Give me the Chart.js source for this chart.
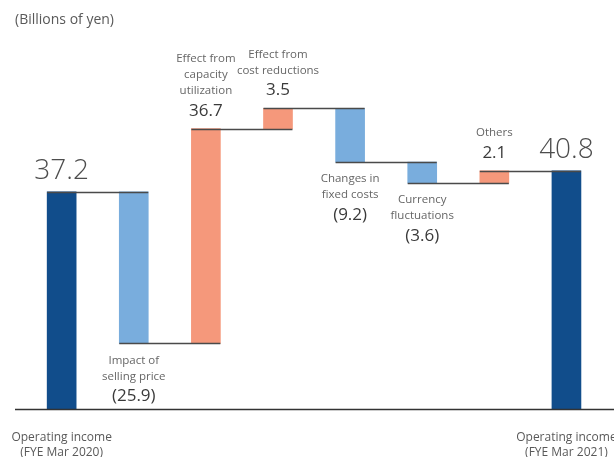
<!DOCTYPE html>
<html>
<head>
<meta charset="utf-8">
<script src="https://cdn.jsdelivr.net/npm/chart.js@4.4.1/dist/chart.umd.min.js"></script>
<style>
  html, body { margin: 0; padding: 0; background: #fff; }
  canvas { display: block; }
</style>
</head>
<body>
<canvas id="chart-1" width="614" height="457"></canvas>
<script>
// data
const categories = [
  "Operating income (FYE Mar 2020)",
  "Impact of selling price",
  "Effect from capacity utilization",
  "Effect from cost reductions",
  "Changes in fixed costs",
  "Currency fluctuations",
  "Others",
  "Operating income (FYE Mar 2021)",
];
const changes = [37.2, -25.9, 36.7, 3.5, -9.2, -3.6, 2.1, 40.8];
const barKinds = ["total", "down", "up", "up", "down", "down", "up", "total"];
const valueTexts = ["37.2", "(25.9)", "36.7", "3.5", "(9.2)", "(3.6)", "2.1", "40.8"];
const nameLines = [
  ["Operating income", "(FYE Mar 2020)"],
  ["Impact of", "selling price"],
  ["Effect from", "capacity", "utilization"],
  ["Effect from", "cost reductions"],
  ["Changes in", "fixed costs"],
  ["Currency", "fluctuations"],
  ["Others"],
  ["Operating income", "(FYE Mar 2021)"],
];
const unitText = "(Billions of yen)";

const colors = {
  total: "#114d8b",
  down: "#79addd",
  up: "#f5987b",
};

// floating ranges
const ranges = [];
let running = 0;
changes.forEach((v, i) => {
  if (barKinds[i] === "total") {
    ranges.push([0, v]);
    running = v;
  } else {
    ranges.push([running, running + v]);
    running = +(running + v).toFixed(1);
  }
});

const font = "'Open Sans', 'Noto Sans', sans-serif";

const waterfallPlugin = {
  id: "waterfall",
  afterDatasetsDraw(chart) {
    const ctx = chart.ctx;
    const y = chart.scales.y;
    const meta = chart.getDatasetMeta(0);
    ctx.save();

    // connectors
    ctx.strokeStyle = "#4a4a4a";
    ctx.lineWidth = 1.3;
    for (let i = 0; i < ranges.length - 1; i++) {
      const a = meta.data[i];
      const b = meta.data[i + 1];
      const py = Math.round(y.getPixelForValue(ranges[i][1])) + 0.5;
      ctx.beginPath();
      ctx.moveTo(a.x - a.width / 2, py);
      ctx.lineTo(b.x + b.width / 2, py);
      ctx.stroke();
    }

    // baseline
    const by = y.getPixelForValue(0);
    ctx.strokeStyle = "#333";
    ctx.lineWidth = 1.5;
    ctx.beginPath();
    ctx.moveTo(15, by);
    ctx.lineTo(chart.width, by);
    ctx.stroke();

    // unit
    ctx.fillStyle = "#595959";
    ctx.font = "14px " + font;
    ctx.textAlign = "left";
    ctx.textBaseline = "middle";
    ctx.fillText(unitText, 15, 20);

    ctx.textAlign = "center";
    meta.data.forEach((bar, i) => {
      const cx = bar.x;
      const top = y.getPixelForValue(Math.max(...ranges[i]));
      const bottom = y.getPixelForValue(Math.min(...ranges[i]));
      const lines = nameLines[i];
      if (barKinds[i] === "total") {
        ctx.fillStyle = "#4d4d4d";
        ctx.font = "300 28px " + font;
        ctx.fillText(valueTexts[i], cx, top - 21);
        ctx.fillStyle = "#595959";
        ctx.font = "12px " + font;
        ctx.fillText(lines[0], cx, by + 28);
        ctx.fillText(lines[1], cx, by + 43);
      } else if (barKinds[i] === "up") {
        ctx.fillStyle = "#3a3a3a";
        ctx.font = "17px " + font;
        ctx.fillText(valueTexts[i], cx, top - 18);
        ctx.fillStyle = "#666";
        ctx.font = "11.5px " + font;
        for (let k = 0; k < lines.length; k++) {
          const off = 38 + (lines.length - 1 - k) * 16;
          ctx.fillText(lines[k], cx, top - off);
        }
      } else {
        ctx.fillStyle = "#666";
        ctx.font = "11.5px " + font;
        lines.forEach((t, k) => {
          ctx.fillText(t, cx, bottom + 17 + k * 16);
        });
        ctx.fillStyle = "#3a3a3a";
        ctx.font = "17px " + font;
        ctx.fillText(valueTexts[i], cx, bottom + 18 + lines.length * 16 + 3);
      }
    });
    ctx.restore();
  },
};

new Chart(document.getElementById("chart-1"), {
  type: "bar",
  data: {
    labels: categories,
    datasets: [
      {
        data: ranges,
        backgroundColor: barKinds.map((k) => colors[k]),
        borderWidth: 0,
        barThickness: 29,
      },
    ],
  },
  options: {
    responsive: false,
    animation: false,
    devicePixelRatio: 1,
    layout: {
      padding: { left: 25.6, right: 11.5, top: 0, bottom: 47.5 },
    },
    scales: {
      x: { display: false, offset: true },
      y: { display: false, min: 0, max: 70 },
    },
    plugins: {
      legend: { display: false },
      tooltip: { enabled: false },
    },
  },
  plugins: [waterfallPlugin],
});
</script>
</body>
</html>
